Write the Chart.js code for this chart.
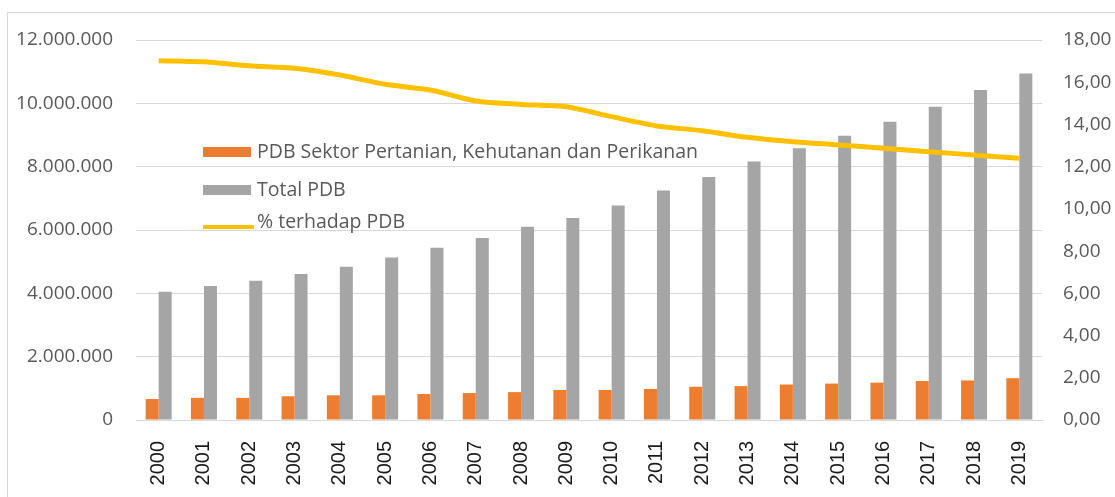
<!DOCTYPE html>
<html>
<head>
<meta charset="utf-8">
<script src="https://cdn.jsdelivr.net/npm/chart.js@4.4.1/dist/chart.umd.min.js"></script>
<style>
html,body{margin:0;padding:0;background:#fff;}
#wrap{width:1115px;height:497px;position:relative;}
</style>
</head>
<body>
<div id="wrap"><canvas id="c" width="1115" height="497"></canvas></div>
<script>
const years = ['2000','2001','2002','2003','2004','2005','2006','2007','2008','2009','2010','2011','2012','2013','2014','2015','2016','2017','2018','2019'];
const pdbPertanian = [663000,700000,700000,750000,780000,780000,820000,850000,880000,950000,950000,980000,1050000,1070000,1120000,1150000,1180000,1230000,1250000,1320000];
const totalPdb = [4050000,4230000,4400000,4610000,4840000,5130000,5440000,5750000,6100000,6380000,6770000,7250000,7670000,8160000,8580000,8980000,9420000,9890000,10420000,10940000];
const persenPdb = [17.02,16.97,16.78,16.66,16.34,15.90,15.63,15.11,14.95,14.84,14.37,13.93,13.70,13.39,13.18,13.03,12.87,12.71,12.55,12.40];
const leftTicks = [0,2000000,4000000,6000000,8000000,10000000,12000000];
const rightTicks = [0,2,4,6,8,10,12,14,16,18];

const FONT = '"Open Sans", sans-serif';
const fmtLeft = v => String(v).replace(/\B(?=(\d{3})+(?!\d))/g, '.');
const fmtRight = v => Number(v).toFixed(2).replace('.', ',');

const borderPlugin = {
  id: 'border',
  beforeDraw(chart) {
    const ctx = chart.ctx;
    ctx.save();
    ctx.strokeStyle = '#d9d9d9';
    ctx.lineWidth = 1;
    ctx.strokeRect(7.5, 12.5, 1120, 500);
    ctx.restore();
  }
};

const legendPlugin = {
  id: 'innerLegend',
  afterDraw(chart) {
    const ctx = chart.ctx;
    const ds = chart.data.datasets;
    ctx.save();
    ctx.font = '19.5px ' + FONT;
    ctx.textBaseline = 'middle';
    ctx.fillStyle = ds[1].backgroundColor;
    ctx.fillRect(203, 147, 48, 10);
    ctx.fillStyle = '#595959';
    ctx.fillText(ds[1].label, 257, 152);
    ctx.fillStyle = ds[2].backgroundColor;
    ctx.fillRect(203, 185, 48, 10);
    ctx.fillStyle = '#595959';
    ctx.fillText(ds[2].label, 257, 190);
    ctx.strokeStyle = ds[0].borderColor;
    ctx.lineWidth = 4;
    ctx.beginPath();
    ctx.moveTo(203, 227);
    ctx.lineTo(254, 227);
    ctx.stroke();
    ctx.fillStyle = '#595959';
    ctx.fillText(ds[0].label, 257, 222);
    ctx.restore();
  }
};

new Chart(document.getElementById('c'), {
  data: {
    labels: years,
    datasets: [
      {
        type: 'line',
        label: '% terhadap PDB',
        data: persenPdb,
        yAxisID: 'y2',
        borderColor: '#FFC000',
        backgroundColor: '#FFC000',
        borderWidth: 5,
        pointRadius: 0,
        tension: 0.25,
        order: 0
      },
      {
        type: 'bar',
        label: 'PDB Sektor Pertanian, Kehutanan dan Perikanan',
        data: pdbPertanian,
        yAxisID: 'y',
        backgroundColor: '#ED7D31',
        categoryPercentage: 0.574,
        barPercentage: 1.0,
        order: 1
      },
      {
        type: 'bar',
        label: 'Total PDB',
        data: totalPdb,
        yAxisID: 'y',
        backgroundColor: '#A5A5A5',
        categoryPercentage: 0.574,
        barPercentage: 1.0,
        order: 1
      }
    ]
  },
  options: {
    responsive: false,
    animation: false,
    layout: { padding: { top: 40, left: 0, right: 0, bottom: 0 } },
    plugins: { legend: { display: false }, tooltip: { enabled: false } },
    scales: {
      x: {
        grid: { display: false, drawTicks: false },
        border: { display: true, color: '#d9d9d9', width: 1 },
        ticks: {
          autoSkip: false,
          maxRotation: 90,
          minRotation: 90,
          padding: 21,
          color: '#1a1a1a',
          font: { family: '"Liberation Sans", Arial, sans-serif', size: 20 }
        },
        afterFit(scale) { scale.height = 77; }
      },
      y: {
        position: 'left',
        min: 0,
        max: 12000000,
        afterBuildTicks(scale) { scale.ticks = leftTicks.map(v => ({ value: v })); },
        grid: { color: '#d9d9d9', lineWidth: 1, drawTicks: false },
        border: { display: false },
        ticks: {
          padding: 23,
          color: '#595959',
          font: { family: FONT, size: 19 },
          callback: v => fmtLeft(v)
        },
        afterFit(scale) { scale.width = 136; }
      },
      y2: {
        position: 'right',
        min: 0,
        max: 18,
        afterBuildTicks(scale) { scale.ticks = rightTicks.map(v => ({ value: v })); },
        grid: { drawOnChartArea: false, drawTicks: false },
        border: { display: false },
        ticks: {
          padding: 21,
          color: '#595959',
          font: { family: FONT, size: 19 },
          callback: v => fmtRight(v)
        },
        afterFit(scale) { scale.width = 73; }
      }
    }
  },
  plugins: [borderPlugin, legendPlugin]
});
</script>
</body>
</html>
